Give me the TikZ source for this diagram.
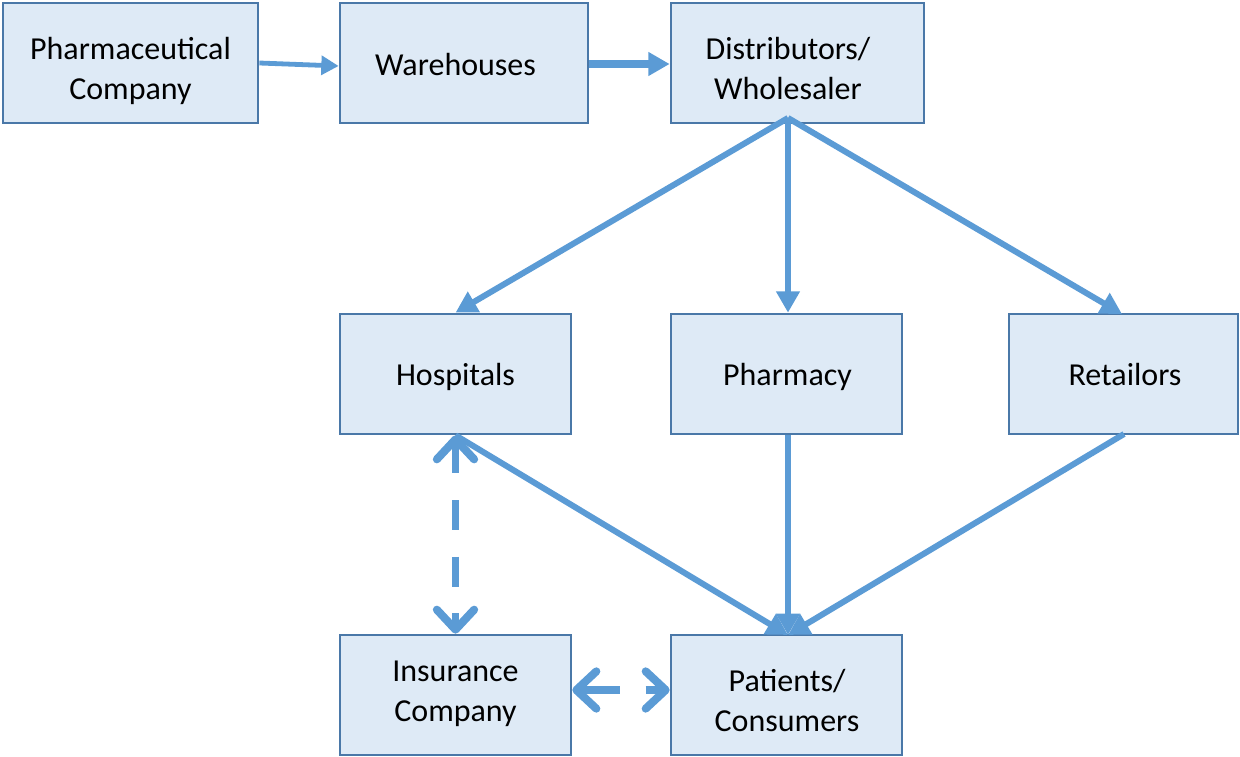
\documentclass[tikz,border=0pt]{standalone}
\usepackage{fontspec}
\setmainfont{Carlito}
\usetikzlibrary{arrows.meta}
\definecolor{boxfill}{HTML}{DEEAF6}
\definecolor{boxline}{HTML}{4A78A8}
\definecolor{flow}{HTML}{5B9BD5}
\begin{document}
\begin{tikzpicture}[x=0.75pt,y=-0.75pt,
  stage/.style={draw=boxline,line width=2pt,fill=boxfill,inner sep=0pt,
    minimum height=90pt},
  caption/.style={inner sep=0pt,anchor=base,align=center,
    font=\fontsize{24}{30}\selectfont},
  flowline/.style={draw=flow,line width=4.5pt,-{Triangle[length=16pt,width=17pt]}},
  thinflow/.style={draw=flow,line width=3.6pt,-{Triangle[length=13pt,width=14pt]}},
  barb/.tip={Straight Barb[round,length=15pt,width=28pt,line width=6pt]},
  link/.style={draw=flow,line width=5.5pt,dash pattern=on 22.5pt off 20pt,barb-barb}]
\useasboundingbox (0,0) rectangle (1240,757);
% stages of the supply chain
\node[stage,minimum width=191.25pt] (pharma) at (130.5,63) {};
\node[stage,minimum width=186pt] (ware) at (464,63) {};
\node[stage,minimum width=189.75pt] (dist) at (797.5,63) {};
\node[stage,minimum width=173.25pt] (hosp) at (455.5,374) {};
\node[stage,minimum width=173.25pt] (pharmacy) at (786.5,374) {};
\node[stage,minimum width=171.75pt] (retail) at (1123.5,374) {};
\node[stage,minimum width=173.25pt] (ins) at (455.5,695) {};
\node[stage,minimum width=173.25pt] (pat) at (786.5,695) {};
% captions, placed on the baseline of their last line
\node[caption] (pharma-t) at (130.5,99) {Pharmaceutical\\Company};
\node[caption] (ware-t) at (455.5,75) {Warehouses};
\node[caption] (dist-t) at (788,99) {Distributors/\\Wholesaler};
\node[caption] (hosp-t) at (455.5,385.5) {Hospitals};
\node[caption] (pharmacy-t) at (787.5,385.5) {Pharmacy};
\node[caption] (retail-t) at (1125,385.5) {Retailors};
\node[caption] (ins-t) at (455.5,721.5) {Insurance\\Company};
\node[caption] (pat-t) at (787,731.5) {Patients/\\Consumers};
% anchor points on the box edges
\coordinate (dsrc) at (788,118);
\coordinate (pin) at (788,635);
% upper chain
\draw[thinflow] (pharma.east |- 0,63) -- (ware.west |- 0,66);
\draw[flowline,line width=5.5pt] (ware.east |- 0,64) -- (dist.west |- 0,64);
% distribution
\draw[flowline] (dsrc) -- (hosp.north);
\draw[flowline] (dsrc) -- (pharmacy.north -| dsrc);
\draw[flowline] (dsrc) -- (1122,314);
% to patients
\draw[flowline] (hosp.south) -- (pin);
\draw[flowline] (pharmacy.south -| dsrc) -- (pin);
\draw[flowline] (1124,434) -- (pin);
% insurance links
\draw[link] (hosp.south) -- (ins.north);
\draw[link,dash pattern=on 30pt off 19pt] (ins.east |- 0,690) -- (pat.west |- 0,690);
\end{tikzpicture}
\end{document}
